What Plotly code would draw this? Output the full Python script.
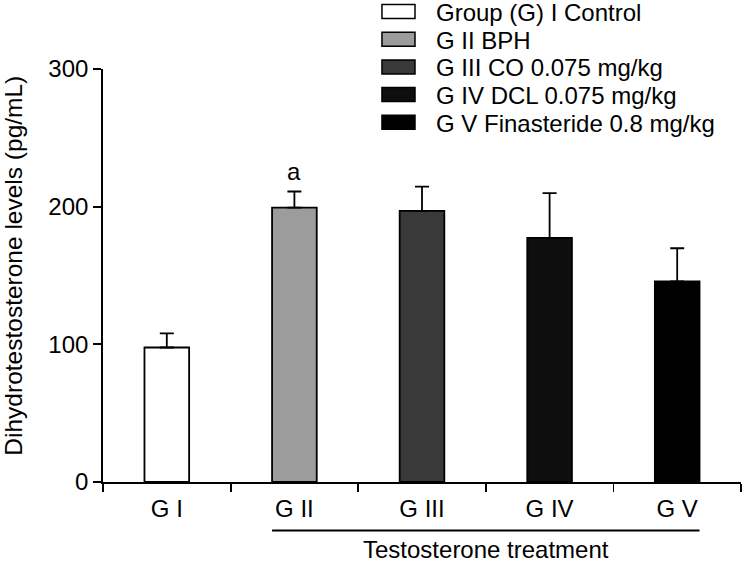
import plotly.graph_objects as go

# Datos
groups = ['G I', 'G II', 'G III', 'G IV', 'G V']
dht_mean = [97.7, 199.3, 196.9, 177.3, 145.7]
dht_err = [10.2, 11.7, 17.7, 32.5, 24.1]
bar_colors = ['#ffffff', '#9c9c9c', '#393939', '#0e0e0e', '#000000']
legend_labels = ['Group (G) I Control', 'G II BPH', 'G III CO 0.075 mg/kg',
                 'G IV DCL 0.075 mg/kg', 'G V Finasteride 0.8 mg/kg']
sig_marks = ['', 'a', '', '', '']
y_ticks = [0, 100, 200, 300]

FONT = 'Liberation Sans, Arial, sans-serif'

fig = go.Figure()

fig.add_trace(go.Bar(
    x=groups,
    y=dht_mean,
    width=0.35,
    marker=dict(color=bar_colors, line=dict(color='black', width=1.8)),
    error_y=dict(type='data', array=dht_err, arrayminus=[0] * len(dht_err),
                 symmetric=False, color='black', thickness=1.8, width=7),
    showlegend=False
))

# letras de significancia
for g, m, e, s in zip(groups, dht_mean, dht_err, sig_marks):
    if s:
        fig.add_annotation(x=g, y=m + e, text=s, showarrow=False,
                           yanchor='bottom', yshift=5,
                           font=dict(size=24, color='black', family=FONT))

# leyenda dibujada a mano (cajas anchas como en el original)
plot_l, plot_w = 103.3, 637.4
plot_b, plot_h = 481.6, 412.3
for i, (lab, col) in enumerate(zip(legend_labels, bar_colors)):
    cy = 13 + i * 27.6
    fig.add_shape(type='rect', xref='paper', yref='paper',
                  x0=(382 - plot_l) / plot_w, x1=(415 - plot_l) / plot_w,
                  y0=(plot_b - (cy + 6)) / plot_h, y1=(plot_b - (cy - 8)) / plot_h,
                  fillcolor=col, line=dict(color='black', width=1.5))
    fig.add_annotation(xref='paper', yref='paper',
                       x=(434 - plot_l) / plot_w, y=(plot_b - cy) / plot_h,
                       xanchor='left', yanchor='middle', showarrow=False,
                       text=lab, font=dict(size=24, color='black', family=FONT))

# línea de "Testosterone treatment"
fig.add_shape(type='line', xref='x', yref='paper',
              x0=1 - 0.175, x1=4 + 0.175,
              y0=(plot_b - 530) / plot_h, y1=(plot_b - 530) / plot_h,
              line=dict(color='black', width=1.8))
fig.add_annotation(xref='x', yref='paper', x=2.5, y=(plot_b - 549) / plot_h,
                   text='Testosterone treatment', showarrow=False,
                   xanchor='center', yanchor='middle',
                   font=dict(size=24, color='black', family=FONT))

# título del eje Y
fig.add_annotation(xref='paper', yref='paper', x=(13 - plot_l) / plot_w,
                   y=(plot_b - 266) / plot_h, textangle=-90,
                   text='Dihydrotestosterone levels (pg/mL)', showarrow=False,
                   xanchor='center', yanchor='middle',
                   font=dict(size=24.5, color='black', family=FONT))

fig.update_layout(
    width=744, height=563,
    margin=dict(l=103, r=3, t=69, b=81),
    plot_bgcolor='white', paper_bgcolor='white',
    font=dict(family=FONT, size=24, color='black'),
    xaxis=dict(type='category', range=[-0.5, 4.5], showline=True,
               linecolor='black', linewidth=1.8, ticks='outside',
               tickson='boundaries', ticklen=8, tickwidth=1.8,
               tickcolor='black', showgrid=False, zeroline=False,
               ticklabelstandoff=4),
    yaxis=dict(range=[0, 300], tickvals=y_ticks, showline=True,
               linecolor='black', linewidth=1.8, ticks='outside',
               ticklen=8, tickwidth=1.8, tickcolor='black',
               showgrid=False, zeroline=False),
    showlegend=False
)

fig.write_html('out.html',
               config={'displayModeBar': False, 'staticPlot': True},
               post_script="document.body.style.margin='0';"
                           "document.body.style.overflow='hidden';")
